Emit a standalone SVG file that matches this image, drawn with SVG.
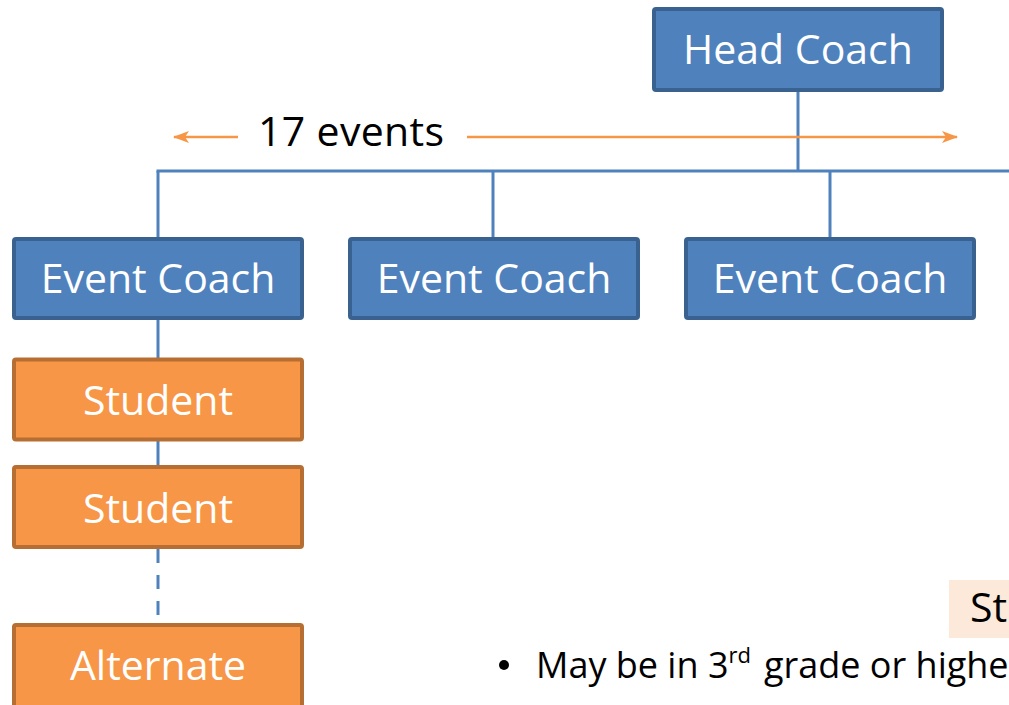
<svg xmlns="http://www.w3.org/2000/svg" width="1009" height="705" viewBox="0 0 1009 705">
<style>
.blue rect{fill:#4f81bd;stroke:#3a6290;stroke-width:4}
.orange rect{fill:#f79646;stroke:#b76e32;stroke-width:4}
.lbl{font-family:"Open Sans","Noto Sans",sans-serif;font-size:41px;fill:#ffffff;text-anchor:middle}
.txt{font-family:"Open Sans","Noto Sans",sans-serif;fill:#000000}
.conn{stroke:#4f81bd;stroke-width:3;fill:none}
.arr{stroke:#f79646;stroke-width:2.5;fill:none}
</style>
<defs>
<marker id="ah" viewBox="0 0 16 12" refX="15" refY="6" markerWidth="16" markerHeight="12" markerUnits="userSpaceOnUse" orient="auto-start-reverse">
<path d="M0,0 L16,6 L0,12 L4,6 Z" fill="#f79646"/>
</marker>
</defs>
<rect width="1009" height="705" fill="#ffffff"/>
<g id="connectors">
<line class="conn" x1="798" y1="91" x2="798" y2="171"/>
<line class="conn" x1="156.5" y1="171" x2="1009" y2="171"/>
<line class="conn" x1="158" y1="171" x2="158" y2="238"/>
<line class="conn" x1="493" y1="171" x2="493" y2="238"/>
<line class="conn" x1="830" y1="171" x2="830" y2="238"/>
<line class="conn" x1="158" y1="319" x2="158" y2="359"/>
<line class="conn" x1="158" y1="440" x2="158" y2="467"/>
<line class="conn" x1="158" y1="549" x2="158" y2="623" stroke-dasharray="14 12"/>
</g>
<g id="span-arrows">
<line class="arr" x1="238" y1="137" x2="174" y2="137" marker-end="url(#ah)"/>
<line class="arr" x1="467" y1="137" x2="957" y2="137" marker-end="url(#ah)"/>
<text class="txt" x="258" y="146" font-size="41" textLength="186">17 events</text>
</g>
<g id="head-coach" class="blue">
<rect x="654" y="9" width="288" height="81" rx="2"/>
<text class="lbl" x="798" y="64">Head Coach</text>
</g>
<g id="event-coach-1" class="blue">
<rect x="14" y="239" width="288" height="79" rx="2"/>
<text class="lbl" x="158" y="293">Event Coach</text>
</g>
<g id="event-coach-2" class="blue">
<rect x="350" y="239" width="288" height="79" rx="2"/>
<text class="lbl" x="494" y="293">Event Coach</text>
</g>
<g id="event-coach-3" class="blue">
<rect x="686" y="239" width="288" height="79" rx="2"/>
<text class="lbl" x="830" y="293">Event Coach</text>
</g>
<g id="student-1" class="orange">
<rect x="14" y="359.5" width="288" height="80" rx="2"/>
<text class="lbl" x="158" y="415">Student</text>
</g>
<g id="student-2" class="orange">
<rect x="14" y="467" width="288" height="80" rx="2"/>
<text class="lbl" x="158" y="523">Student</text>
</g>
<g id="alternate" class="orange">
<rect x="14" y="625" width="288" height="90" rx="2"/>
<text class="lbl" x="158" y="680">Alternate</text>
</g>
<g id="students-note">
<rect x="949" y="580" width="70" height="58" fill="#fde9d9"/>
<text class="txt" x="970" y="622" font-size="41">St</text>
<circle cx="504" cy="665" r="5" fill="#000000"/>
<text class="txt" x="536" y="678" font-size="36">May be in 3<tspan font-size="22" dy="-15">rd</tspan><tspan x="764" dy="15">grade or highe</tspan></text>
</g>
</svg>
